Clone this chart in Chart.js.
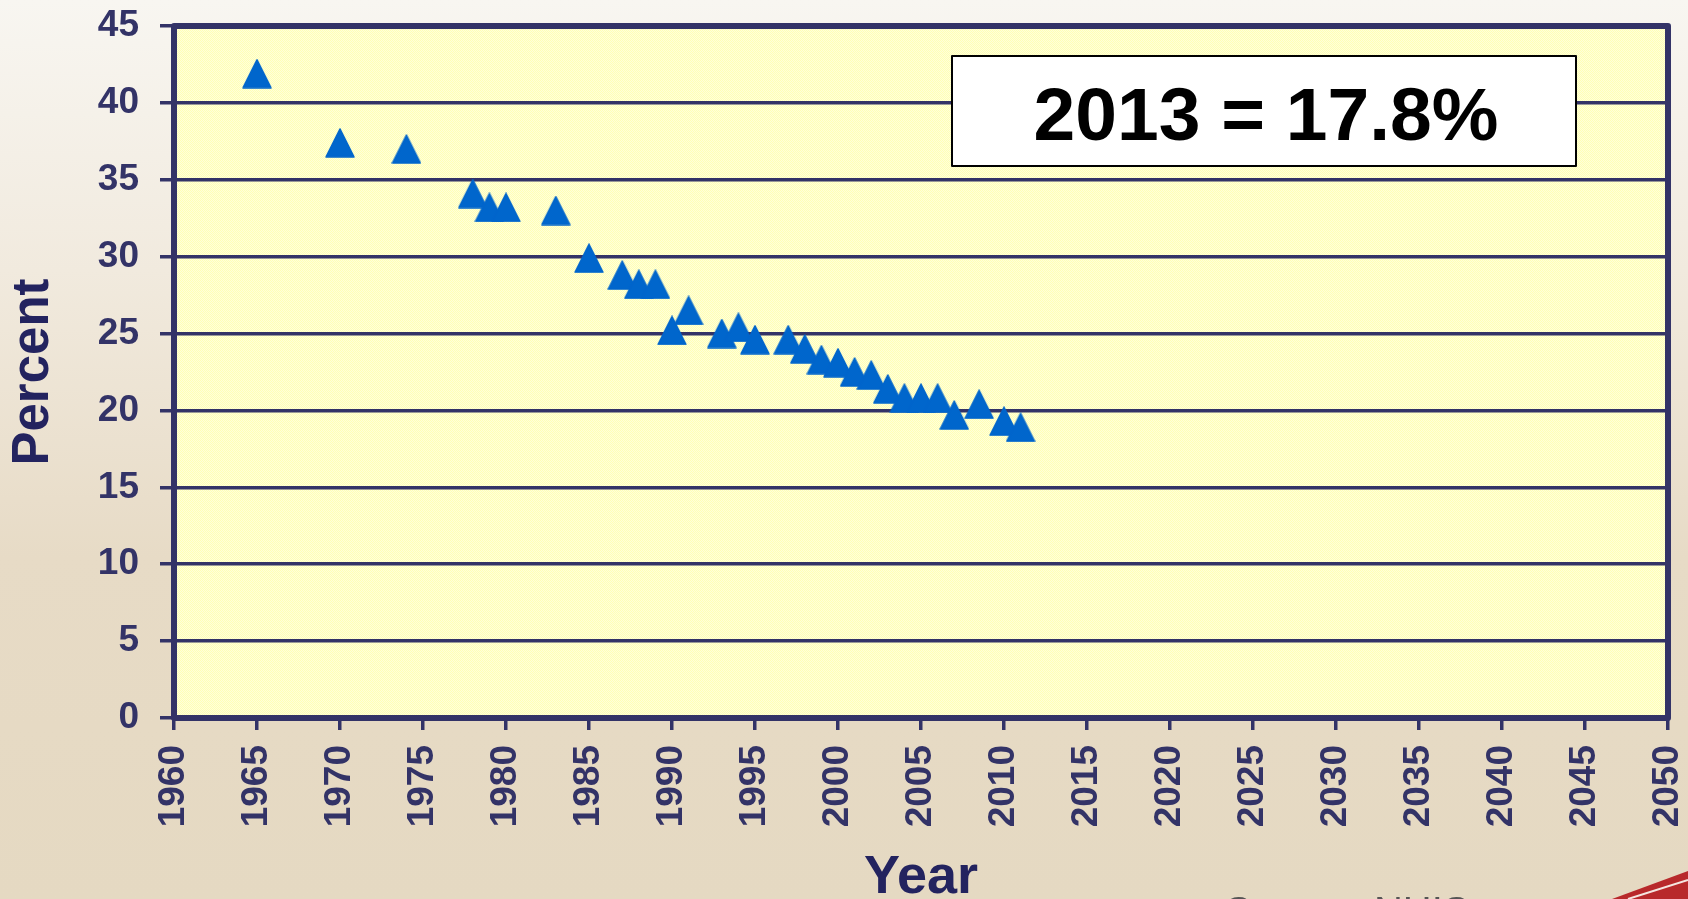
<!DOCTYPE html>
<html>
<head>
<meta charset="utf-8">
<title>Percent by Year</title>
<script src="https://cdn.jsdelivr.net/npm/chart.js@4.4.1/dist/chart.umd.min.js"></script>
<style>
  html, body { margin: 0; padding: 0; overflow: hidden; background: #E6DAC4; }
  #wrap { width: 1688px; height: 899px; position: relative; }
</style>
</head>
<body>
<div id="wrap"><canvas id="chart" width="1688" height="899"></canvas></div>
<script>
// Survey years and the percentage recorded for each
const years = [1965, 1970, 1974, 1978, 1979, 1980, 1983, 1985, 1987, 1988, 1989,
               1990, 1991, 1993, 1994, 1995, 1997, 1998, 1999, 2000, 2001, 2002,
               2003, 2004, 2005, 2006, 2007, 2008.5, 2010, 2011];
const percent = [41.9, 37.4, 37.0, 34.1, 33.2, 33.2, 33.0, 29.9, 28.8, 28.2, 28.2,
                 25.2, 26.5, 25.0, 25.4, 24.6, 24.6, 24.0, 23.3, 23.1, 22.5, 22.3,
                 21.4, 20.8, 20.8, 20.8, 19.7, 20.4, 19.3, 18.9];

// Axis ticks
const xTicks = [1960, 1965, 1970, 1975, 1980, 1985, 1990, 1995, 2000, 2005,
                2010, 2015, 2020, 2025, 2030, 2035, 2040, 2045, 2050];
const yTicks = [0, 5, 10, 15, 20, 25, 30, 35, 40, 45];

// Text
const xTitle = 'Year';
const yTitle = 'Percent';
const note = '2013 = 17.8%';
const source = 'Source: NHIS';

const FONT = '"Liberation Sans", Arial, Helvetica, sans-serif';
const navy = '#333367';
const titleNavy = '#23235F';
const markerBlue = '#0066CC';

// Filled triangle marker, slightly taller than equilateral
function triangleMarker(size, color) {
  const c = document.createElement('canvas');
  c.width = size; c.height = size;
  const g = c.getContext('2d');
  g.fillStyle = color;
  g.strokeStyle = color;
  g.lineWidth = 1.5;
  g.lineJoin = 'round';
  g.beginPath();
  g.moveTo(size / 2, 1);
  g.lineTo(size - 1, size - 1);
  g.lineTo(1, size - 1);
  g.closePath();
  g.fill();
  g.stroke();
  return c;
}

// Fine yellow dither used for the plot area
function ditherPattern(ctx) {
  const c = document.createElement('canvas');
  c.width = 2; c.height = 2;
  const g = c.getContext('2d');
  g.fillStyle = '#FFFFDA'; g.fillRect(0, 0, 2, 2);
  g.fillStyle = '#FFFFB6'; g.fillRect(0, 0, 1, 1); g.fillRect(1, 1, 1, 1);
  return ctx.createPattern(c, 'repeat');
}

// Keep the plot area fixed: no extra room reserved for edge tick labels
function noEdgePadding(s) {
  s.paddingTop = 0;
  s.paddingBottom = 0;
  s.paddingLeft = 0;
  s.paddingRight = 0;
}

const decor = {
  id: 'decor',
  beforeDraw(chart) {
    const { ctx, width, height, chartArea: a } = chart;
    ctx.save();
    // page background
    const grad = ctx.createLinearGradient(0, 0, 0, height);
    grad.addColorStop(0, '#F8F6F1');
    grad.addColorStop(0.3, '#F1EADE');
    grad.addColorStop(0.62, '#E7DBC6');
    grad.addColorStop(1, '#E5D9C2');
    ctx.fillStyle = grad;
    ctx.fillRect(0, 0, width, height);

    // corner ribbon
    ctx.fillStyle = '#B8292B';
    ctx.beginPath();
    ctx.moveTo(1612, height);
    ctx.lineTo(width, height - 28);
    ctx.lineTo(width, height);
    ctx.closePath();
    ctx.fill();
    ctx.strokeStyle = '#F4E6E0';
    ctx.lineWidth = 2;
    ctx.beginPath();
    ctx.moveTo(1628, height);
    ctx.lineTo(width, height - 19);
    ctx.stroke();

    // plot area
    ctx.fillStyle = ditherPattern(ctx);
    ctx.fillRect(a.left, a.top, a.right - a.left, a.bottom - a.top);
    ctx.restore();
  },
  afterDraw(chart) {
    const { ctx, height, chartArea: a } = chart;
    ctx.save();
    // frame round the plot area
    ctx.strokeStyle = navy;
    ctx.lineWidth = 6;
    ctx.lineJoin = 'round';
    ctx.strokeRect(a.left, a.top, a.right - a.left, a.bottom - a.top);

    // note box
    const bx = 952, by = 56, bw = 624, bh = 110;
    ctx.fillStyle = '#FFFFFF';
    ctx.fillRect(bx, by, bw, bh);
    ctx.strokeStyle = '#000000';
    ctx.lineWidth = 2;
    ctx.strokeRect(bx, by, bw, bh);
    ctx.fillStyle = '#000000';
    ctx.font = 'bold 75px ' + FONT;
    ctx.textAlign = 'center';
    ctx.textBaseline = 'alphabetic';
    ctx.fillText(note, bx + bw / 2 + 2, by + 84);

    // source line at the foot of the page
    ctx.fillStyle = '#555555';
    ctx.font = '40px ' + FONT;
    ctx.textAlign = 'left';
    ctx.fillText(source, 1225, height + 26);
    ctx.restore();
  }
};

const points = years.map((y, i) => ({ x: y, y: percent[i] }));

new Chart(document.getElementById('chart'), {
  type: 'scatter',
  data: {
    datasets: [{
      data: points,
      pointStyle: triangleMarker(30, markerBlue),
      pointRadius: 15,
      pointHoverRadius: 15,
      showLine: false
    }]
  },
  options: {
    responsive: false,
    devicePixelRatio: 1,
    animation: false,
    events: [],
    layout: {
      autoPadding: false,
      padding: { top: 26, right: 20, left: 0, bottom: 0 }
    },
    plugins: {
      legend: { display: false },
      tooltip: { enabled: false }
    },
    scales: {
      x: {
        type: 'linear',
        min: 1960,
        max: 2050,
        afterFit(s) { s.height = 181; noEdgePadding(s); },
        afterBuildTicks(s) { s.ticks = xTicks.map(v => ({ value: v })); },
        border: { display: false },
        grid: {
          display: true,
          drawOnChartArea: false,
          drawTicks: true,
          tickLength: 12,
          color: navy,
          lineWidth: 3.5
        },
        ticks: {
          autoSkip: false,
          minRotation: 90,
          maxRotation: 90,
          padding: 15,
          color: navy,
          font: { family: FONT, size: 37, weight: 'bold' },
          callback: v => String(v)
        },
        title: {
          display: true,
          text: xTitle,
          color: titleNavy,
          font: { family: FONT, size: 54, weight: 'bold', lineHeight: 0.78 },
          padding: { top: 0, bottom: 0 }
        }
      },
      y: {
        type: 'linear',
        min: 0,
        max: 45,
        afterFit(s) { s.width = 174; noEdgePadding(s); },
        afterBuildTicks(s) { s.ticks = yTicks.map(v => ({ value: v })); },
        border: { display: false },
        grid: {
          display: true,
          drawOnChartArea: true,
          drawTicks: true,
          tickLength: 14,
          color: navy,
          lineWidth: 3.5
        },
        ticks: {
          autoSkip: false,
          padding: 21,
          color: navy,
          font: { family: FONT, size: 37, weight: 'bold' },
          callback: v => String(v)
        },
        title: {
          display: true,
          text: yTitle,
          color: titleNavy,
          font: { family: FONT, size: 51, weight: 'bold', lineHeight: 1.2 },
          padding: { top: 3, bottom: 0 }
        }
      }
    }
  },
  plugins: [decor]
});
</script>
</body>
</html>
